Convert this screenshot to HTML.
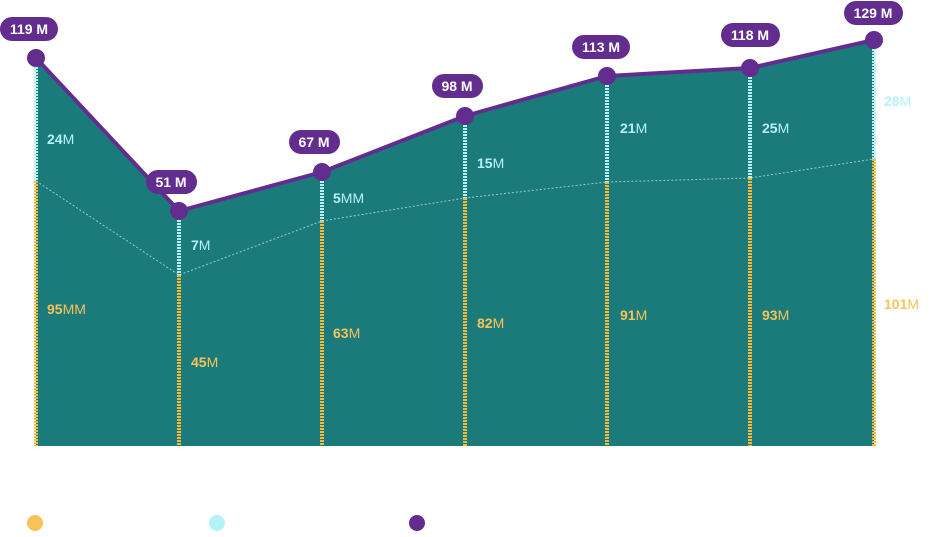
<!DOCTYPE html>
<html><head><meta charset="utf-8"><style>
body{margin:0;background:#fff;width:937px;height:532px;overflow:hidden}
text{font-family:"Liberation Sans",sans-serif}
</style></head><body>
<svg width="937" height="532" viewBox="0 0 937 532">
<polygon points="36,58 179,211 322,172 465,116 607,76 750,68 874,40 874,446 36,446" fill="#1b7b7b"/>
<polyline points="36,181 179,275 322,221 465,198 607,182 750,178 874,159" fill="none" stroke="#b5e0e0" stroke-width="1" stroke-dasharray="2 2" opacity="0.8"/>
<g stroke-width="4" stroke-dasharray="2 1">
<g stroke="#b5f2f7">
<line x1="36" y1="58" x2="36" y2="181"/><line x1="179" y1="211" x2="179" y2="275"/><line x1="322" y1="172" x2="322" y2="221"/><line x1="465" y1="116" x2="465" y2="198"/><line x1="607" y1="76" x2="607" y2="182"/><line x1="750" y1="68" x2="750" y2="178"/><line x1="874" y1="40" x2="874" y2="159"/>
</g>
<g stroke="#f7b93a">
<line x1="36" y1="181" x2="36" y2="446"/><line x1="179" y1="275" x2="179" y2="446"/><line x1="322" y1="221" x2="322" y2="446"/><line x1="465" y1="198" x2="465" y2="446"/><line x1="607" y1="182" x2="607" y2="446"/><line x1="750" y1="178" x2="750" y2="446"/><line x1="874" y1="159" x2="874" y2="446"/>
</g></g>
<polyline points="36,58 179,211 322,172 465,116 607,76 750,68 874,40" fill="none" stroke="#622d8f" stroke-width="4" stroke-linejoin="round"/>
<g fill="#622d8f">
<circle cx="36" cy="58" r="9"/><circle cx="179" cy="211" r="9"/><circle cx="322" cy="172" r="9"/><circle cx="465" cy="116" r="9"/><circle cx="607" cy="76" r="9"/><circle cx="750" cy="68" r="9"/><circle cx="874" cy="40" r="9"/>
<rect x="0" y="17" width="58" height="24" rx="12"/>
<rect x="146" y="170" width="51" height="24" rx="12"/>
<rect x="289" y="130" width="51" height="24" rx="12"/>
<rect x="432" y="74" width="51" height="24" rx="12"/>
<rect x="572" y="35" width="58" height="24" rx="12"/>
<rect x="721" y="23" width="59" height="24" rx="12"/>
<rect x="844" y="1" width="59" height="24" rx="12"/>
<circle cx="417" cy="523" r="8"/>
</g>
<circle cx="35" cy="523" r="8" fill="#f9c259"/>
<circle cx="217" cy="523" r="8" fill="#b5f2f7"/>
<g fill="#fff" font-size="14" font-weight="bold" text-anchor="middle">
<text x="29" y="34">119 M</text><text x="171" y="187">51 M</text><text x="314" y="147">67 M</text><text x="457" y="91">98 M</text><text x="601" y="52">113 M</text><text x="750" y="40">118 M</text><text x="873" y="18">129 M</text>
</g>
<g font-size="14">
<g fill="#b5f2f7">
<text x="47" y="144"><tspan font-weight="bold">24</tspan>M</text>
<text x="191" y="250"><tspan font-weight="bold">7</tspan>M</text>
<text x="333" y="203"><tspan font-weight="bold">5</tspan>MM</text>
<text x="477" y="168"><tspan font-weight="bold">15</tspan>M</text>
<text x="620" y="133"><tspan font-weight="bold">21</tspan>M</text>
<text x="762" y="133"><tspan font-weight="bold">25</tspan>M</text>
<text x="884" y="106"><tspan font-weight="bold">28</tspan>M</text>
</g>
<g fill="#f9c259">
<text x="47" y="314"><tspan font-weight="bold">95</tspan>MM</text>
<text x="191" y="367"><tspan font-weight="bold">45</tspan>M</text>
<text x="333" y="338"><tspan font-weight="bold">63</tspan>M</text>
<text x="477" y="328"><tspan font-weight="bold">82</tspan>M</text>
<text x="620" y="320"><tspan font-weight="bold">91</tspan>M</text>
<text x="762" y="320"><tspan font-weight="bold">93</tspan>M</text>
<text x="884" y="309"><tspan font-weight="bold">101</tspan>M</text>
</g></g>
</svg>
</body></html>
